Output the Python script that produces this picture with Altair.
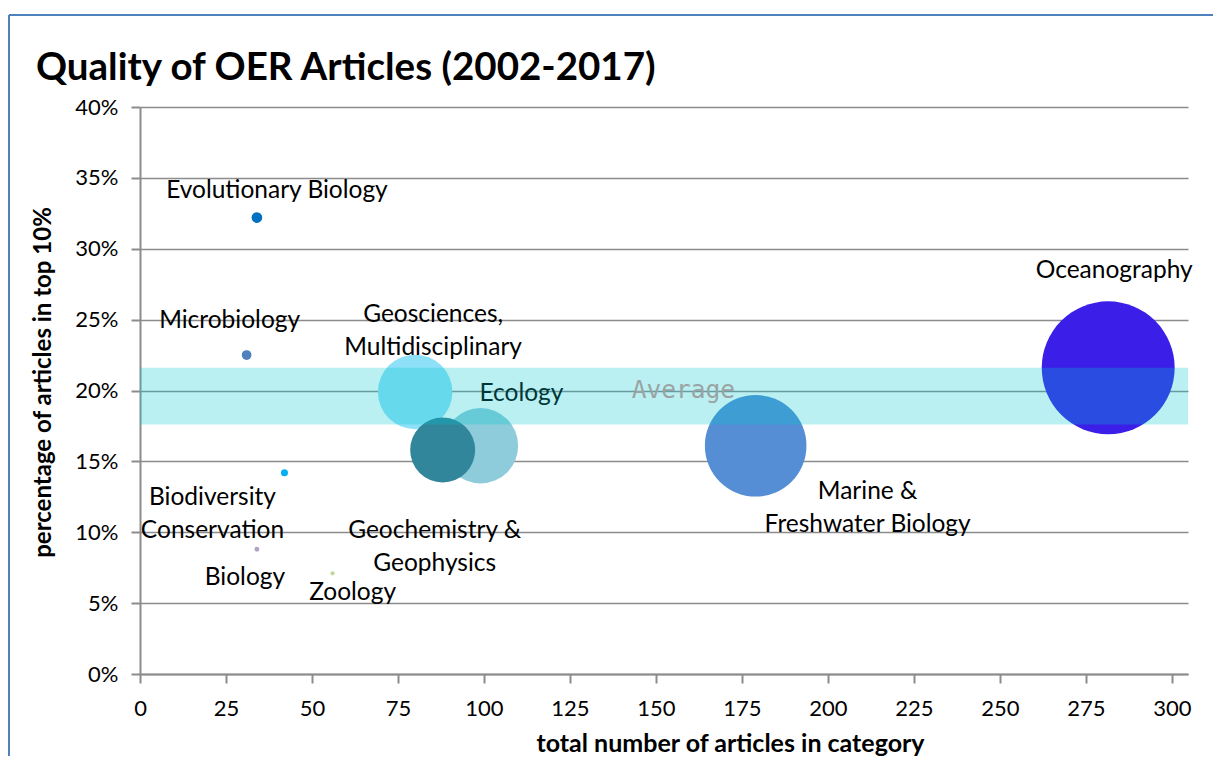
import altair as alt
import pandas as pd

# ---- data ----
categories = [
    "Oceanography",
    "Marine & Freshwater Biology",
    "Geosciences, Multidisciplinary",
    "Ecology",
    "Geochemistry & Geophysics",
    "Evolutionary Biology",
    "Microbiology",
    "Biodiversity Conservation",
    "Biology",
    "Zoology",
]
total_articles = [281.5, 179, 80, 99, 88, 34, 31, 42, 34, 56]
pct_top10 = [21.6, 16.1, 19.9, 16.1, 15.8, 32.2, 22.5, 14.2, 8.8, 7.1]
bubble_size = [100, 58.4, 31.4, 32.1, 23.9, 0.64, 0.54, 0.28, 0.13, 0.10]

label_text = [
    "Oceanography",
    "Marine &\nFreshwater Biology",
    "Geosciences,\nMultidisciplinary",
    "Ecology",
    "Geochemistry &\nGeophysics",
    "Evolutionary Biology",
    "Microbiology",
    "Biodiversity\nConservation",
    "Biology",
    "Zoology",
]

chart_title = "Quality of OER Articles (2002-2017)"
avg_value = 20
avg_low = 17.6
avg_high = 21.6

x_ticks = [0, 25, 50, 75, 100, 125, 150, 175, 200, 225, 250, 275, 300]
y_ticks = [0, 5, 10, 15, 20, 25, 30, 35, 40]

# ---- styling (kept separate from the data) ----
colors = ["#3B1FE8", "#558ED5", "#8DE0F8", "#8ECCDB", "#31869C",
          "#0070C0", "#4F81BD", "#00B0F0", "#B3A2C7", "#C3D69B"]
label_dx = [6, 112, 18, 41, -8, 20, -17, -72, -12, 20]
label_dy = [-97, 46, -77, -52, 81, -27, -34, 25, 29, 20]

W, H = 1048, 567
FONT = "Lato"

df = pd.DataFrame({
    "category": categories,
    "total": total_articles,
    "pct": pct_top10,
    "size": bubble_size,
    "label": label_text,
})

x_enc = alt.X(
    "total:Q",
    scale=alt.Scale(domain=[0, 304.7], nice=False, zero=True),
    axis=alt.Axis(
        values=x_ticks,
        title="total number of articles in category",
        grid=False,
        titleX=590,
        titleY=77,
        titleAlign="center",
        titleBaseline="alphabetic",
        titleFontSize=25,
        labelPadding=15,
        labelFlush=False,
    ),
)
y_enc = alt.Y(
    "pct:Q",
    scale=alt.Scale(domain=[0, 40], nice=False),
    axis=alt.Axis(
        values=y_ticks,
        labelExpr="datum.value + '%'",
        title="percentage of articles in top 10%",
        grid=True,
        titleX=-97,
        titleY=275,
        titleAngle=270,
        titleAlign="center",
        titleBaseline="middle",
        labelPadding=13,
        labelFlush=False,
    ),
)

bubbles = alt.Chart(df).mark_circle(opacity=1).encode(
    x=x_enc,
    y=y_enc,
    size=alt.Size("size:Q", scale=alt.Scale(domain=[0, 100], range=[0, 17671]), legend=None),
    color=alt.Color("category:N", scale=alt.Scale(domain=categories, range=colors), legend=None),
)

label_layers = []
for i in range(len(categories)):
    ldf = pd.DataFrame({"total": [total_articles[i]], "pct": [pct_top10[i]], "label": [label_text[i]]})
    label_layers.append(
        alt.Chart(ldf).mark_text(
            dx=label_dx[i], dy=label_dy[i], lineBreak="\n", lineHeight=33,
            font=FONT, fontSize=24.5, color="#000000", align="center", baseline="middle",
        ).encode(x="total:Q", y="pct:Q", text="label:N")
    )

band_df = pd.DataFrame({"lo": [avg_low], "hi": [avg_high]})
band = alt.Chart(band_df).mark_rect(color="#00C8D0", opacity=0.27).encode(
    y="lo:Q", y2="hi:Q", x=alt.value(0), x2=alt.value(W)
)

avg_df = pd.DataFrame({"total": [158], "pct": [avg_value], "t": ["Average"]})
avg_text = alt.Chart(avg_df).mark_text(
    font="DejaVu Sans Mono", fontSize=24.5, color="#9AA3A3", align="center", baseline="middle"
).encode(x="total:Q", y="pct:Q", text="t:N")

title_df = pd.DataFrame({"t": [chart_title]})
title_text = alt.Chart(title_df).mark_text(
    font=FONT, fontSize=38.5, fontWeight="bold", color="#000000", align="left", baseline="alphabetic"
).encode(x=alt.value(-104), y=alt.value(-27), text="t:N")

border_v = alt.Chart(band_df).mark_rule(color="#4F81BD", strokeWidth=2).encode(
    x=alt.value(-131), y=alt.value(-92), y2=alt.value(H + 100)
)
border_h = alt.Chart(band_df).mark_rule(color="#4F81BD", strokeWidth=2).encode(
    y=alt.value(-92), x=alt.value(-131), x2=alt.value(W + 60)
)

chart = alt.layer(bubbles, *label_layers, band, avg_text, title_text, border_v, border_h).properties(
    width=W,
    height=H,
    padding={"left": 132, "top": 99, "right": 25, "bottom": 82},
    autosize=alt.AutoSizeParams(type="none"),
    background="#FFFFFF",
).configure_view(stroke=None).configure_axis(
    domainColor="#8C8C8C",
    domainWidth=2,
    tickColor="#8C8C8C",
    tickWidth=2,
    tickSize=9,
    gridColor="#8C8C8C",
    gridWidth=1.5,
    labelFont=FONT,
    labelFontSize=22,
    labelColor="#000000",
    titleFont=FONT,
    titleFontSize=24,
    titleFontWeight="bold",
    titleColor="#000000",
)

chart.save("out.html", embed_options={"renderer": "svg", "actions": False})
